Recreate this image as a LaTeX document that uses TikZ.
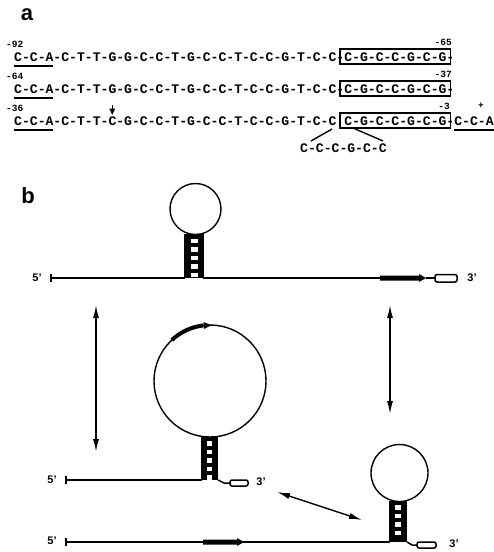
\documentclass[tikz,border=0pt]{standalone}
\usepackage{fontspec}
\setmainfont{Liberation Sans}
\newfontfamily\seqfont{Liberation Mono}
\usetikzlibrary{arrows.meta}

% width of one character of the sequence font (Liberation Mono, 13.1pt)
\def\cw{7.861}
% left edge of the sequence rows
\def\sx{14}

\tikzset{
  seq/.style={font=\seqfont\bfseries\fontsize{13.1}{15}\selectfont, inner sep=0pt, anchor=base west},
  num/.style={font=\seqfont\bfseries\fontsize{9.5}{11}\selectfont, inner sep=0pt},
  panel/.style={font=\bfseries\fontsize{22}{24}\selectfont, inner sep=0pt},
  prime/.style={font=\bfseries\fontsize{11}{13}\selectfont, inner sep=0pt},
  rna/.style={line width=1.5pt},
  loopline/.style={line width=1.4pt},
  seqbox/.style={line width=1.5pt},
  uline/.style={line width=1.5pt},
  dbl/.style={line width=1.4pt, {Latex[length=13pt,width=6pt]}-{Latex[length=13pt,width=6pt]}},
}

% ladder-shaped double-stranded stem: outer box, then white holes between rungs
\newcommand\stemladder[6]{% left x, right x, top y, bottom y, hole inset, list of hole tops
  \fill (#1,#3) rectangle (#2,#4);
  \foreach \hy in {#6} {\fill[white] ({#1+#5},\hy) rectangle ({#2-#5},{\hy+4.5});}
}

\begin{document}
\begin{tikzpicture}[x=1pt,y=-1pt]
\useasboundingbox (0,0) rectangle (494,552);

% ---------------- panel a: sequences ----------------
\node[panel] (la) at (27,15) {a};

\node[num, anchor=base west] (n92) at (6,47) {-92};
\node[seq] (r1) at (\sx,61) {C-C-A-C-T-T-G-G-C-C-T-G-C-C-T-C-C-G-T-C-C-C-G-C-C-G-C-G-};
\node[num, anchor=base east] (n65) at (452,45) {-65};
\draw[seqbox] ({\sx+41.5*\cw},49) rectangle ({\sx+55.5*\cw},64);
\draw[uline] (\sx,66) -- ({\sx+5*\cw},66);

\node[num, anchor=base west] (n64) at (6,79) {-64};
\node[seq] (r2) at (\sx,93) {C-C-A-C-T-T-G-G-C-C-T-G-C-C-T-C-C-G-T-C-C-C-G-C-C-G-C-G-};
\node[num, anchor=base east] (n37) at (452,77) {-37};
\draw[seqbox] ({\sx+41.5*\cw},81) rectangle ({\sx+55.5*\cw},96);
\draw[uline] (\sx,98) -- ({\sx+5*\cw},98);

\node[num, anchor=base west] (n36) at (6,111) {-36};
\node[seq] (r3) at (\sx,125) {C-C-A-C-T-T-C-G-C-C-T-G-C-C-T-C-C-G-T-C-C C-G-C-C-G-C-G-C-C-A};
\node[num, anchor=base east] (n3) at (450,109) {-3};
\node[num, anchor=base] (nplus) at (481,108) {+};
\draw[seqbox] ({\sx+41.5*\cw},113) rectangle ({\sx+55.5*\cw},128);
\draw[uline] (\sx,130) -- ({\sx+5*\cw},130);
\draw[uline] ({\sx+56*\cw},130) -- ({\sx+61*\cw},130);

% cleavage mark above the seventh base of the third row
\draw[line width=1pt] ({\sx+12.5*\cw},105) -- ({\sx+12.5*\cw},109);
\fill ({\sx+12.5*\cw-3},108.5) -- ({\sx+12.5*\cw+3},108.5) -- ({\sx+12.5*\cw},115) -- cycle;

% inserted stretch below the third row
\node[seq] (ins) at (300,152) {C-C-C-G-C-C};
\coordinate (insA) at (311,141);
\coordinate (insB) at (383,141);
\coordinate (rowA) at (332,129);
\coordinate (rowB) at (353,128);
\draw[line width=1.4pt] (rowA) -- (insA);
\draw[line width=1.4pt] (rowB) -- (insB);

% ---------------- panel b: structures ----------------
\node[panel] (lb) at (28,196) {b};

% top: single hairpin near the 5' side
\node[prime] (t5l) at (37,278) {5'};
\coordinate (t5) at (51,278);
\coordinate (tsl) at (185,278);
\coordinate (tsr) at (203,278);
\coordinate (tbar) at (380,278);
\coordinate (tbe) at (426,278);
\coordinate (tbox) at (435,278);
\draw[rna] (51,274) -- (51,282);
\draw[rna] (t5) -- (tsl);
\stemladder{184}{204}{234}{278}{6.5}{238.5,247,255.5,264,272.5}
\draw[loopline] (195.5,209) circle [radius=25.5];
\draw[rna] (tsr) -- (tbar);
\fill (380,275.5) -- (419,275.5) -- (419,274) -- (426,278) -- (419,282) -- (419,280.5) -- (380,280.5) -- cycle;
\draw[rna] (tbe) -- (tbox);
\draw[rna, rounded corners=2pt] (435,274.5) rectangle (457,282);
\node[prime] (t3l) at (472,278) {3'};

% middle: large loop containing the marked segment
\node[prime] (m5l) at (52,480) {5'};
\coordinate (m5) at (66,480);
\coordinate (msl) at (202,480);
\draw[rna] (66,476) -- (66,484);
\draw[rna] (m5) -- (msl);
\stemladder{201}{218}{437}{480}{6}{441,449.5,458,466.5,475}
\draw[loopline] (210,381) circle [radius=56];
\draw[line width=4pt] (210,381) ++(-133:56) arc [start angle=-133, end angle=-97, radius=56];
\fill (203.5,322) -- (211.5,325.2) -- (203.8,329) -- cycle;
\draw[rna] (218,480) -- (224,483) -- (230,483);
\draw[rna, rounded corners=2pt] (230,480) rectangle (248,486);
\node[prime] (m3l) at (261,482) {3'};

% bottom: hairpin near the 3' end
\node[prime] (b5l) at (52,541) {5'};
\coordinate (b5) at (66,542);
\coordinate (bbar) at (203,542);
\coordinate (bbe) at (243,542);
\coordinate (bsl) at (390,542);
\draw[rna] (66,538) -- (66,546);
\draw[rna] (b5) -- (bbar);
\fill (203,539.5) -- (237,539.5) -- (237,538) -- (244,542) -- (237,546) -- (237,544.5) -- (203,544.5) -- cycle;
\draw[rna] (bbe) -- (bsl);
\stemladder{389}{407}{501}{542}{6}{505,513.5,522,530.5}
\draw[loopline] (399.5,473) circle [radius=28.5];
\draw[rna] (407,542) -- (412,545) -- (417,545);
\draw[rna, rounded corners=2pt] (417,542) rectangle (436,548);
\node[prime] (b3l) at (454,544) {3'};

% equilibria between the structures
\coordinate (ua) at (96,305);
\coordinate (ub) at (96,452);
\coordinate (va) at (390,305);
\coordinate (vb) at (390,414);
\coordinate (wa) at (277,492);
\coordinate (wb) at (362,520);
\draw[dbl] (ua) -- (ub);
\draw[dbl] (va) -- (vb);
\draw[dbl] (wa) -- (wb);
\end{tikzpicture}
\end{document}
